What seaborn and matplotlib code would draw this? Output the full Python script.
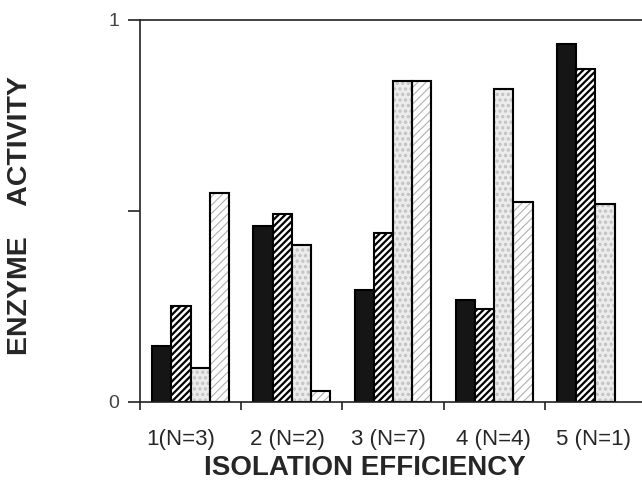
import numpy as np
import pandas as pd
import matplotlib
matplotlib.use("Agg")
import matplotlib.pyplot as plt
from matplotlib.patches import Rectangle
from matplotlib.transforms import ScaledTranslation
import seaborn as sns

# Values (enzyme activity, 0..1 scale)
categories = ["1(N=3)", "2 (N=2)", "3 (N=7)", "4 (N=4)", "5 (N=1)"]
series_names = ["A", "B", "C", "D"]
enzyme_a = [0.147, 0.461, 0.292, 0.266, 0.936]
enzyme_b = [0.251, 0.492, 0.442, 0.242, 0.871]
enzyme_c = [0.087, 0.410, 0.840, 0.819, 0.518]
enzyme_d = [0.547, 0.028, 0.840, 0.523, np.nan]

df = pd.DataFrame({
    "group": categories * 4,
    "series": np.repeat(series_names, len(categories)),
    "activity": enzyme_a + enzyme_b + enzyme_c + enzyme_d,
})

sns.set_style("white")
plt.rcParams["font.family"] = ["Liberation Sans", "DejaVu Sans"]
plt.rcParams["hatch.linewidth"] = 1.6

fig = plt.figure(figsize=(6.42, 4.82), dpi=100)
ax = fig.add_axes([0.218, 0.1666, 0.782, 0.7925])

sns.barplot(
    data=df, x="group", y="activity", hue="series",
    hue_order=series_names, order=categories,
    palette=["#151515", "white", "#ececec", "white"],
    width=0.76, edgecolor="black", linewidth=1.5,
    legend=False, ax=ax,
)

# series styles: solid black, dense dark hatch, stipple, light hatch
for bar in ax.containers[1]:
    bar.set_hatch("/////")
for bar in ax.containers[2]:
    bar.set_hatch("...")
    bar.set_edgecolor("#c2c2c2")
    ax.add_patch(Rectangle(bar.get_xy(), bar.get_width(), bar.get_height(),
                           fill=False, ec="black", lw=1.5, zorder=bar.get_zorder() + 0.1))
for bar in ax.containers[3]:
    bar.set_hatch("////")
    bar.set_edgecolor("#b0b0b0")
    if hasattr(bar, "set_hatch_linewidth"):
        bar.set_hatch_linewidth(0.8)
    ax.add_patch(Rectangle(bar.get_xy(), bar.get_width(), bar.get_height(),
                           fill=False, ec="black", lw=1.5, zorder=bar.get_zorder() + 0.1))

ax.set_xlim(-0.5, 4.46)
ax.set_ylim(0, 1)

for side in ["left", "top", "bottom"]:
    ax.spines[side].set_visible(True)
    ax.spines[side].set_color("#222222")
    ax.spines[side].set_linewidth(1.2)
ax.spines["right"].set_visible(False)

# group boundary ticks on x, category labels as minor ticks
ax.set_xticks(np.arange(-0.5, 4.0, 1.0))
ax.set_xticklabels([])
ax.set_xticks(np.arange(len(categories)), minor=True)
ax.set_xticklabels(categories, minor=True, fontsize=16)
ax.tick_params(axis="x", which="major", direction="out", length=6, width=1.2,
               bottom=True, color="#222222")
ax.tick_params(axis="x", which="minor", length=0, pad=20)
# labels sit slightly left of their groups in the original
shifts = [-10, -4, -5, -1, -2]
for tick, dx in zip(ax.xaxis.get_minor_ticks(), shifts):
    lab = tick.label1
    lab.set_transform(lab.get_transform() + ScaledTranslation(dx / 100, 0, fig.dpi_scale_trans))

ax.set_yticks([0, 0.5, 1])
ax.set_yticklabels(["0", "", "1"], fontsize=14, color="#444444")
ax.tick_params(axis="y", direction="out", length=9, width=1.2, left=True,
               color="#222222", pad=6)

ax.set_xlabel("ISOLATION EFFICIENCY", fontsize=20, fontweight="bold", va="center")
ax.xaxis.set_label_coords(0.448, -0.174)
ax.set_ylabel("ENZYME    ACTIVITY", fontsize=20.5, fontweight="bold", va="center")
ax.yaxis.set_label_coords(-0.239, 0.486)

fig.savefig("out.png", dpi=100)
